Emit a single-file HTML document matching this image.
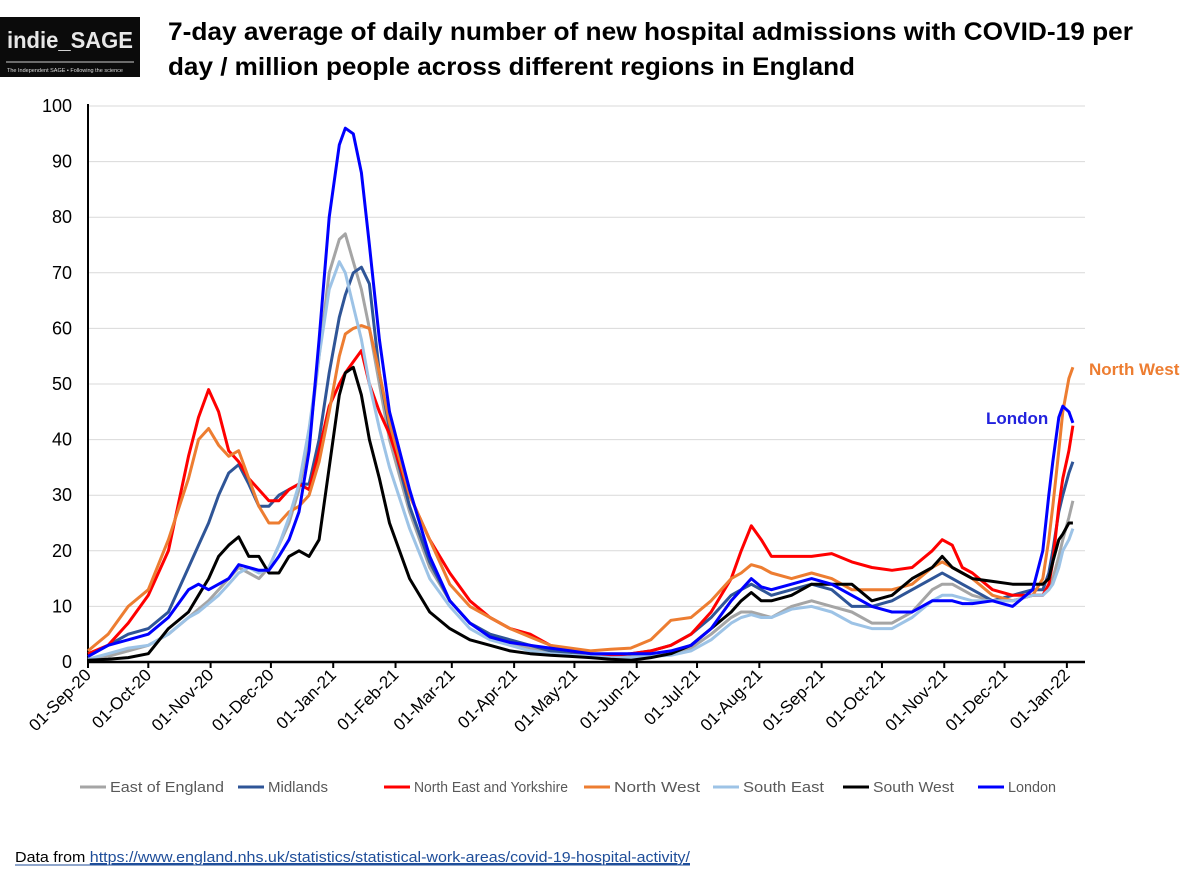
<!DOCTYPE html>
<html><head><meta charset="utf-8"><style>
body{margin:0;background:#fff;font-family:"Liberation Sans",Arial,sans-serif;}
#wrap{position:relative;width:1200px;height:876px;overflow:hidden;}
</style></head><body>
<div id="wrap">
<svg id="chart" width="1200" height="876" style="position:absolute;left:0;top:0">
<rect x="0" y="17" width="140" height="60" fill="#0b0b0b"/>
<text x="7" y="48" font-size="23" font-weight="bold" fill="#e8e8e8" textLength="126" lengthAdjust="spacingAndGlyphs">indie_SAGE</text>
<line x1="6" y1="62" x2="134" y2="62" stroke="#ccc" stroke-width="1"/>
<text x="7" y="72" font-size="5.5" fill="#ddd">The Independent SAGE • Following the science</text>
<text x="168" y="40" font-size="25" font-weight="bold" fill="#000" textLength="965" lengthAdjust="spacingAndGlyphs">7-day average of daily number of new hospital admissions with COVID-19 per</text>
<text x="168" y="75" font-size="25" font-weight="bold" fill="#000" textLength="687" lengthAdjust="spacingAndGlyphs">day / million people across different regions in England</text>
<g id="grid"></g><g id="axes"></g><g id="series"></g><g id="legend"></g>
<text x="1089" y="375" font-size="17" font-weight="bold" fill="#ED7D31">North West</text>
<text x="986" y="424" font-size="17" font-weight="bold" fill="#2222dd">London</text>
<text x="15" y="862" font-size="15" fill="#000" textLength="675" lengthAdjust="spacingAndGlyphs">Data from <tspan fill="#1F4E9A" text-decoration="underline">https://www.england.nhs.uk/statistics/statistical-work-areas/covid-19-hospital-activity/</tspan></text>
<line x1="15" y1="865" x2="690" y2="865" stroke="#1F4E9A" stroke-width="1"/>
</svg>
</div>
<script>
const days=[0,10,20,30,40,50,55,60,65,70,75,80,85,90,95,100,105,110,115,120,125,128,132,136,140,145,150,160,170,180,190,200,210,220,230,240,250,260,270,280,290,300,310,320,325,330,335,340,350,360,370,380,390,400,410,420,425,430,435,440,450,460,470,475,478,480,483,485,488,490];
const eastOfEngland=[0.5,1,2,3,5,8,9.5,11,13,15,17,16,15,17,21,25,31,40,55,70,76,77,72,67,60,50,40,27,17,11,7,5,3.5,2.5,2,1.5,1,1,1,1.2,1.5,2.5,5,8,9,9,8.5,8,10,11,10,9,7,7,9,13,14,14,13,12,11,11,12,12,13,15,19,22,26,29];
const midlands=[1,3,5,6,9,17,21,25,30,34,35.5,32,28,28,30,31,32,32,40,52,62,66,70,71,68,52,42,28,18,11,7,5,4,3,2,1.5,1.5,1.2,1.5,2,3,5,8,12,13,14,13,12,13,14,13,10,10,11,13,15,16,15,14,13,11,12,13,13,16,20,27,30,34,36];
const northEastYorks=[1.5,3,7,12,20,37,44,49,45,38,36,33,31,29,29,31,32,31,38,46,50,52,54,56,50,45,41,30,22,16,11,8,6,5,3,2,1.5,1.2,1.5,2,3,5,9,15,20,24.5,22,19,19,19,19.5,18,17,16.5,17,20,22,21,17,16,13,12,12,12,14,18,28,33,38,42.5];
const northWest=[2,5,10,13,22,33,40,42,39,37,38,33,28,25,25,27,28,30,36,45,55,59,60,60.5,60,52,43,30,22,14,10,8,6,4.5,3,2.5,2,2.3,2.5,4,7.5,8,11,15,16,17.5,17,16,15,16,15,13,13,13,14,17,18,17,16,15,12,11,12,15,22,28,38,45,51,53];
const southEast=[0.5,1.5,2.5,3,5,8,9,10.5,12,14,16,17,16,17,21,26,32,42,55,67,72,70,64,58,50,42,35,24,15,10,6,4,3,2,1.5,1.2,1,0.8,0.8,1,1.2,2,4,7,8,8.5,8,8,9.5,10,9,7,6,6,8,11,12,12,11.5,11,11,11,12,12,13,14,17,20,22,24];
const southWest=[0.3,0.5,0.8,1.5,6,9,12,15,19,21,22.5,19,19,16,16,19,20,19,22,35,48,52,53,48,40,33,25,15,9,6,4,3,2,1.5,1.2,1,0.8,0.5,0.3,0.8,1.5,3,6,9,11,12.5,11,11,12,14,14,14,11,12,15,17,19,17,16,15,14.5,14,14,14,15,18,22,23,25,25];
const london=[1,3,4,5,8,13,14,13,14,15,17.5,17,16.5,16.5,19,22,27,38,58,80,93,96,95,88,75,58,45,31,19,11,7,4.5,3.5,3,2.5,2,1.5,1.5,1.5,1.5,2,3,6,11,13,15,13.5,13,14,15,14,12,10,9,9,11,11,11,10.5,10.5,11,10,13,20,30,36,44,46,45,43];
const seriesNames=["East of England","Midlands","North East and Yorkshire","North West","South East","South West","London"];
const seriesColors=["#A5A5A5","#2F5597","#FF0000","#ED7D31","#9DC3E6","#000000","#0000FF"];
const seriesData=[eastOfEngland,midlands,northEastYorks,northWest,southEast,southWest,london];
const yTicks=[0,10,20,30,40,50,60,70,80,90,100];
const xTickDays=[0,30,61,91,122,153,181,212,242,273,303,334,365,395,426,456,487];
const xTickLabels=["01-Sep-20","01-Oct-20","01-Nov-20","01-Dec-20","01-Jan-21","01-Feb-21","01-Mar-21","01-Apr-21","01-May-21","01-Jun-21","01-Jul-21","01-Aug-21","01-Sep-21","01-Oct-21","01-Nov-21","01-Dec-21","01-Jan-22"];
const NS="http://www.w3.org/2000/svg";
const X0=88,XPD=2.01,Y0=662,YPU=5.56;
const xs=d=>X0+d*XPD, ys=v=>Y0-v*YPU;
function mk(t,a,p){const e=document.createElementNS(NS,t);for(const k in a)e.setAttribute(k,a[k]);p.appendChild(e);return e;}
const grid=document.getElementById('grid'),axes=document.getElementById('axes'),ser=document.getElementById('series'),leg=document.getElementById('legend');
yTicks.forEach(v=>{
 if(v>0){const g=mk('line',{x1:X0,x2:1085,y1:ys(v),y2:ys(v),stroke:'#d9d9d9','stroke-width':1},grid);
 
 }
 const t=mk('text',{x:72,y:ys(v)+6,'text-anchor':'end','font-size':18,fill:'#000'},axes);t.textContent=v;
 
 
});
const ya=mk('line',{x1:X0,x2:X0,y1:ys(100)-2,y2:Y0,stroke:'#000','stroke-width':2},axes);


const xa=mk('line',{x1:X0,x2:1085,y1:Y0,y2:Y0,stroke:'#000','stroke-width':2.5},axes);


xTickDays.forEach((d,i)=>{
 mk('line',{x1:xs(d),x2:xs(d),y1:Y0,y2:Y0+6,stroke:'#000','stroke-width':2},axes);
 const x=xs(d)+4,y=Y0+14;
 const t=mk('text',{x:x,y:y,'text-anchor':'end','font-size':17,fill:'#000',transform:'rotate(-45 '+x+' '+y+')'},axes);
 t.textContent=xTickLabels[i];
 
 
});
seriesData.forEach((arr,si)=>{
 const pts=arr.map((v,i)=>xs(days[i]).toFixed(1)+','+ys(v).toFixed(1)).join(' ');
 const p=mk('polyline',{points:pts,fill:'none',stroke:seriesColors[si],'stroke-width':3,'stroke-linejoin':'round'},ser);
 
 
});
const legX=[80,238,384,584,713,843,978];
const legW=[114,60,154,86,81,81,48];
seriesNames.forEach((n,i)=>{
 const g=mk('g',{},leg);
 
 
 mk('line',{x1:legX[i],x2:legX[i]+26,y1:787,y2:787,stroke:seriesColors[i],'stroke-width':3},g);
 const t=mk('text',{x:legX[i]+30,y:792,'font-size':15,fill:'#595959',textLength:legW[i],lengthAdjust:'spacingAndGlyphs'},g);t.textContent=n;
});
</script>
</body></html>
